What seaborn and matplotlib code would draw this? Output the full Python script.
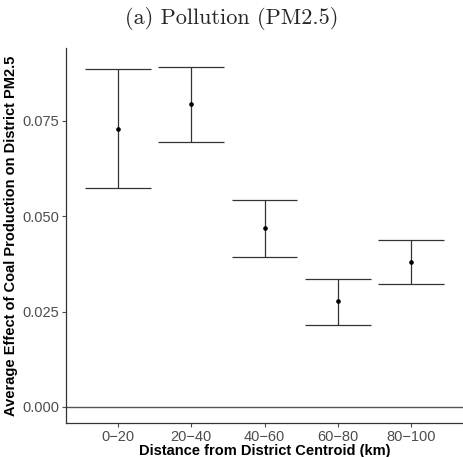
import numpy as np
import pandas as pd
import matplotlib
matplotlib.use("Agg")
import matplotlib.pyplot as plt
import seaborn as sns

categories = ["0\u221220", "20\u221240", "40\u221260", "60\u221280", "80\u2212100"]
estimate = [0.0729, 0.0795, 0.0469, 0.0278, 0.0380]
lower = [0.0574, 0.0695, 0.0393, 0.0215, 0.0323]
upper = [0.0886, 0.0892, 0.0543, 0.0336, 0.0438]

df = pd.DataFrame({"dist": categories, "est": estimate, "lo": lower, "hi": upper})

sns.set_theme(style="white")
plt.rcParams['font.family'] = ['Liberation Sans', 'DejaVu Sans']

fig = plt.figure(figsize=(4.63, 4.57), dpi=100)
ax = fig.add_axes([66/463, 34/457, 1 - 66/463, (423-48)/457])

ax.axhline(0, color="#555555", lw=1.0, zorder=1)
pos = np.arange(len(df))
ax.vlines(pos, df["lo"], df["hi"], color="#333333", lw=0.9, zorder=2)
ax.hlines(df["lo"], pos - 0.45, pos + 0.45, color="#333333", lw=0.9, zorder=2)
ax.hlines(df["hi"], pos - 0.45, pos + 0.45, color="#333333", lw=0.9, zorder=2)
sns.scatterplot(data=df, x="dist", y="est", ax=ax, color="black", s=11,
                edgecolor="black", linewidth=0, zorder=3)

ax.set_xlim(-0.71, 4.71)
ax.set_ylim(-0.0042, 0.0941)
ax.set_yticks([0.0, 0.025, 0.05, 0.075])
ax.set_yticklabels(["0.000", "0.025", "0.050", "0.075"])
ax.set_xticks(pos)
ax.set_xticklabels(categories)

for s in ["top", "right"]:
    ax.spines[s].set_visible(False)
for s in ["left", "bottom"]:
    ax.spines[s].set_color("#333333")
    ax.spines[s].set_linewidth(0.9)

ax.tick_params(axis="both", which="both", direction="out", length=3, width=0.8,
               color="#4D4D4D", labelcolor="#4D4D4D", labelsize=10.5, pad=2,
               left=True, bottom=True)

ax.set_xlabel("Distance from District Centroid (km)", fontsize=10.5,
              fontweight="bold", color="black", labelpad=0)
ax.set_ylabel("Average Effect of Coal Production on District PM2.5", fontsize=10.5,
              fontweight="bold", color="black", labelpad=3)

fig.text(0.5, 1 - 18/457, "(a) Pollution (PM2.5)", ha="center", va="center",
         fontsize=16, family=["cmr10", "DejaVu Serif"])

fig.savefig("out.png", dpi=100)
